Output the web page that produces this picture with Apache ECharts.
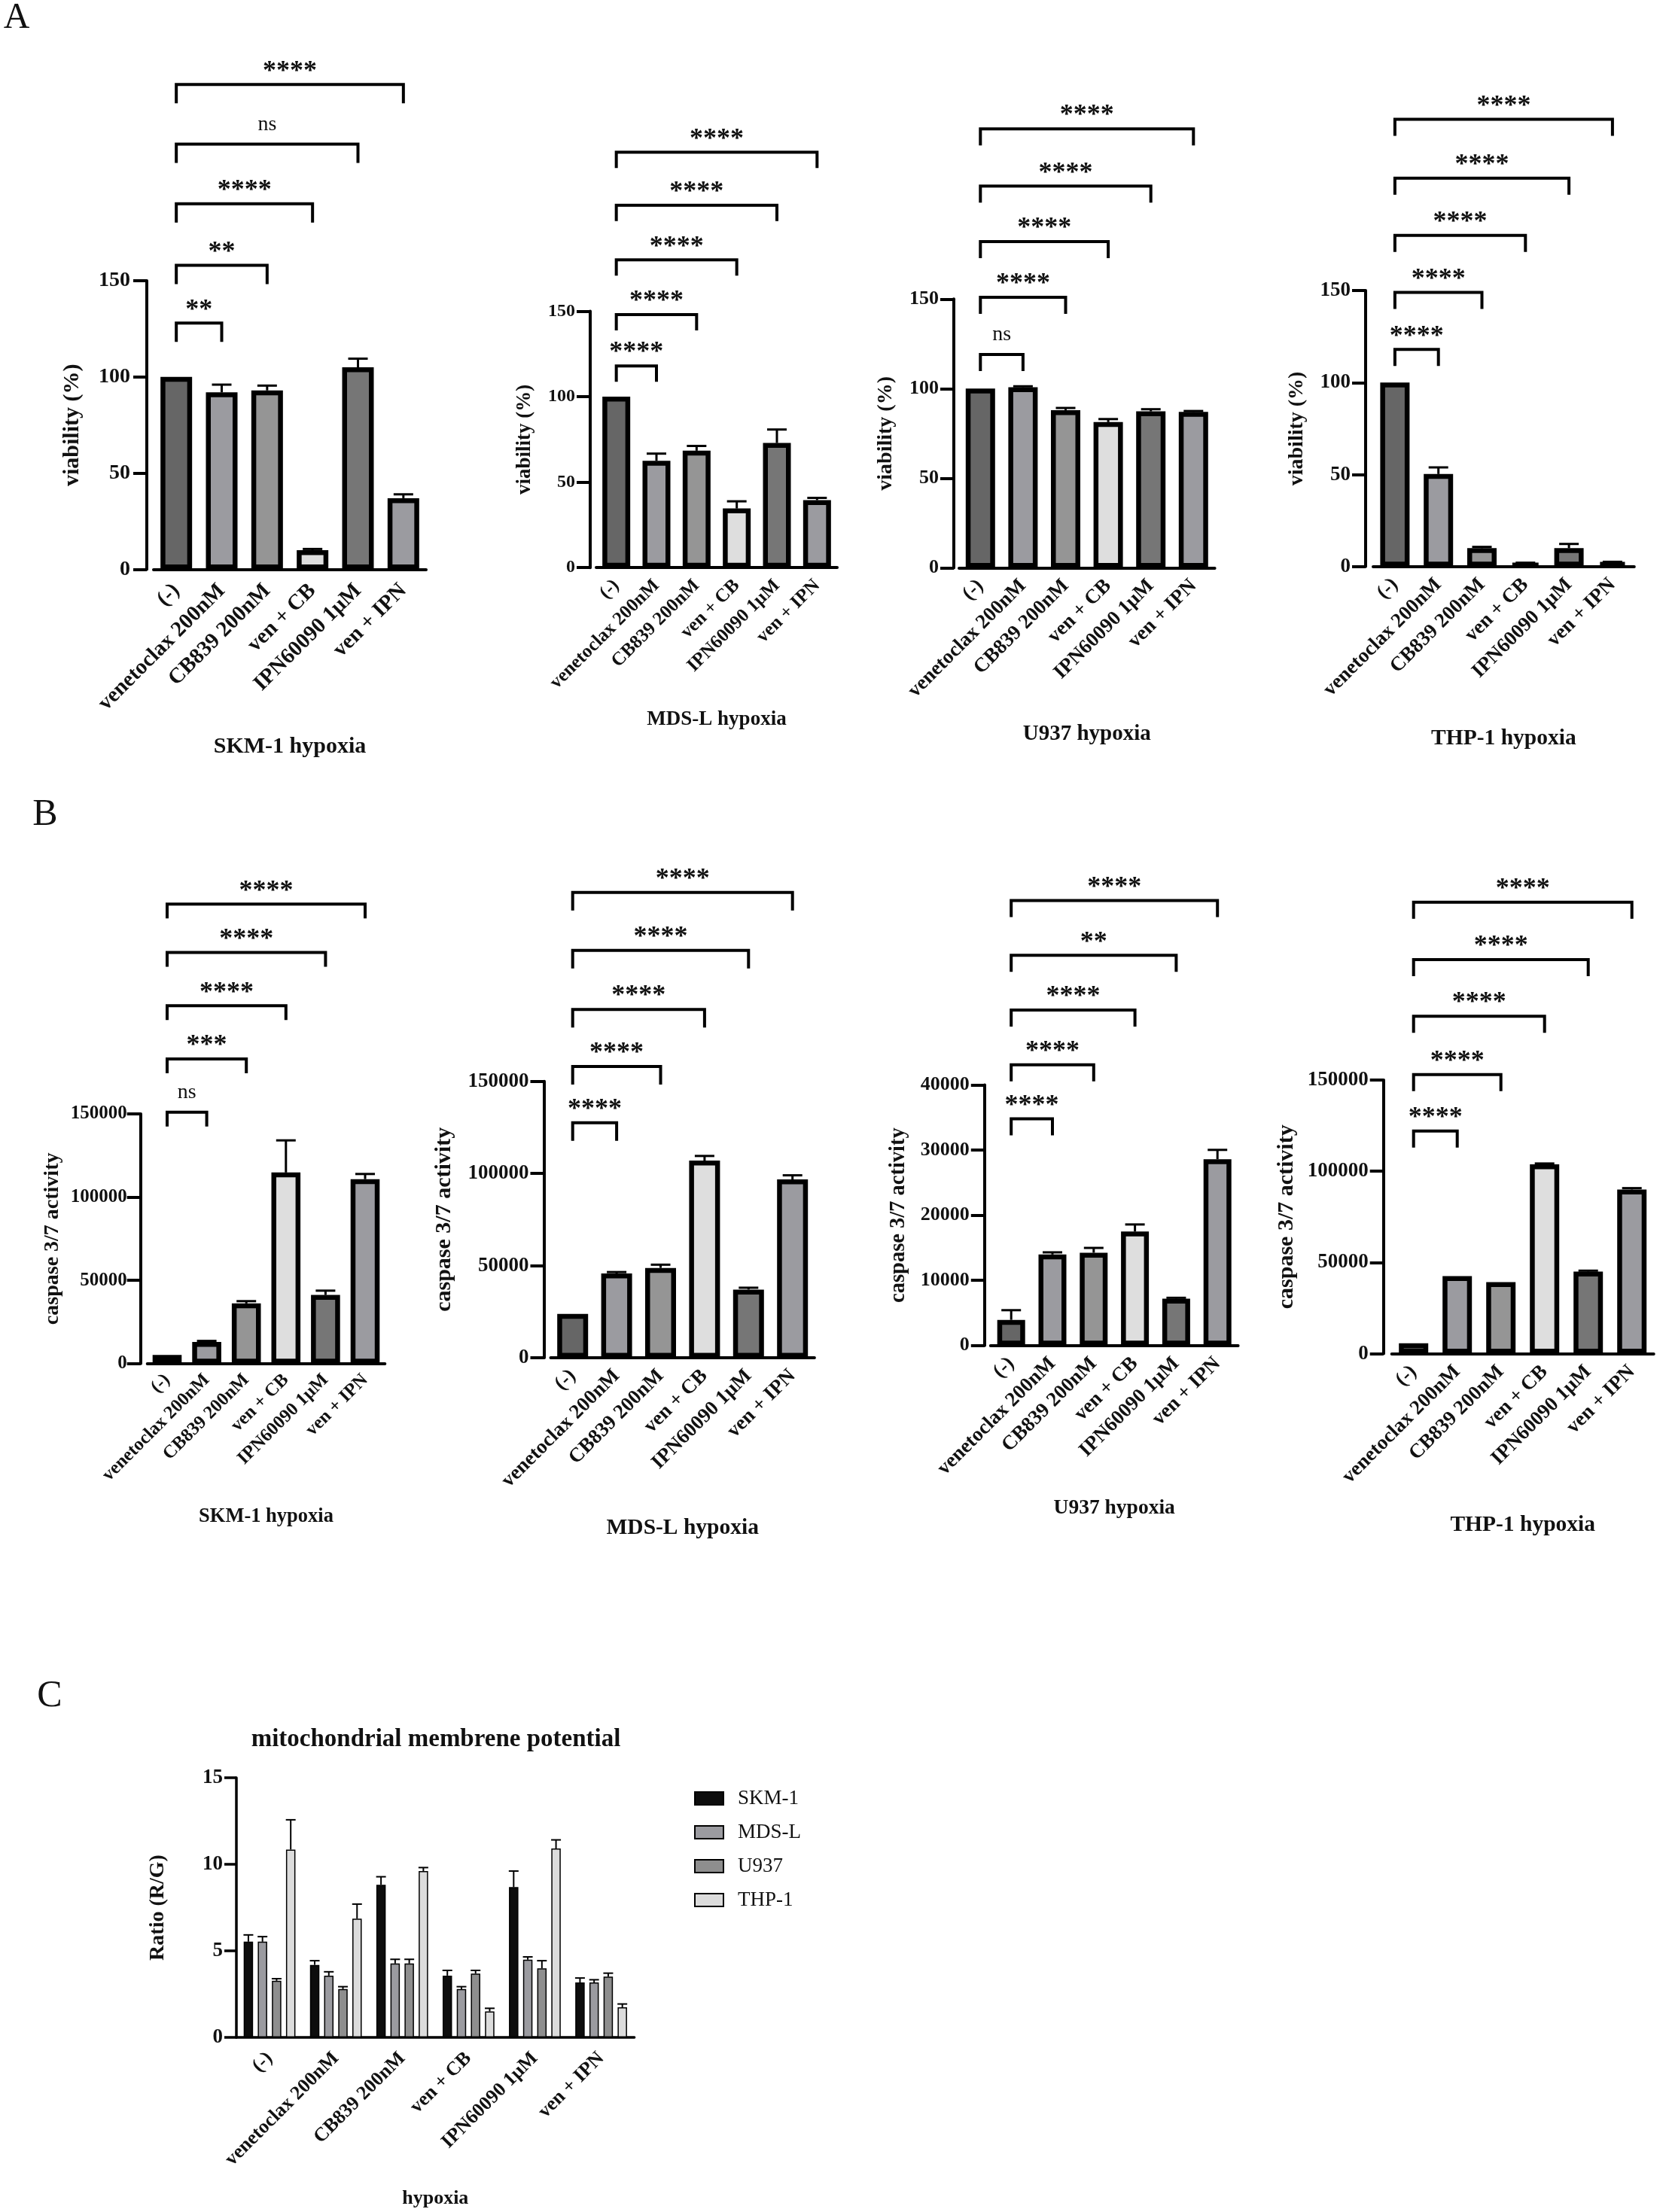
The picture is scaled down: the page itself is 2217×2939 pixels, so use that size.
<!DOCTYPE html>
<html><head><meta charset="utf-8">
<script src="https://cdn.jsdelivr.net/npm/echarts/dist/echarts.min.js"></script>
<style>html,body{margin:0;padding:0;background:#fff}#c{width:2217px;height:2939px}</style>
</head><body><div id="c"></div>
<script>
// ---------- DATA ----------
const categories = ['(-)', 'venetoclax 200nM', 'CB839 200nM', 'ven + CB', 'IPN60090 1μM', 'ven + IPN'];

// Panel A: viability (%)
const viaSKM1 = [100, 92, 93, 10, 105, 37];
const viaSKM1Err = [0, 4, 2.5, 0.6, 4.5, 2];
const viaMDSL = [100, 62.5, 68.4, 34.6, 72.9, 39.5];
const viaMDSLErr = [0, 4.2, 2.8, 4.2, 7.9, 1.3];
const viaU937 = [100, 100.8, 88, 81.3, 87.3, 87];
const viaU937Err = [0, 0.5, 1.2, 1.7, 1.2, 0.5];
const viaTHP1 = [100, 50.3, 10, 1.7, 10, 2.4];
const viaTHP1Err = [0, 3.6, 0.7, 0.4, 2.3, 0.2];

// Panel B: caspase 3/7 activity
const casSKM1 = [5200, 13000, 36100, 114800, 41200, 110800];
const casSKM1Err = [0, 600, 1400, 19300, 2600, 3100];
const casMDSL = [23750, 45750, 48750, 107000, 37000, 96750];
const casMDSLErr = [0, 750, 1750, 2500, 1000, 2250];
const casU937 = [3930, 13970, 14240, 17500, 7190, 28600];
const casU937Err = [1490, 330, 740, 1080, 130, 1430];
const casTHP1 = [5750, 42500, 39250, 103750, 45000, 90000];
const casTHP1Err = [0, 0, 0, 500, 500, 750];

// Significance brackets: (-) vs each other group; labels and bracket levels (data units)
const sigViaSKM1 = ['**', '**', '****', 'ns', '****'];
const lvlViaSKM1 = [128, 158, 190, 221, 252];
const sigViaMDSL = ['****', '****', '****', '****', '****'];
const lvlViaMDSL = [118, 148, 180, 212, 243];
const sigViaU937 = ['ns', '****', '****', '****', '****'];
const lvlViaU937 = [119, 151, 182, 213, 245];
const sigViaTHP1 = ['****', '****', '****', '****', '****'];
const lvlViaTHP1 = [118, 149, 180, 211, 243];
const sigCasSKM1 = ['ns', '***', '****', '****', '****'];
const lvlCasSKM1 = [151000, 183000, 215000, 247000, 276000];
const sigCasMDSL = ['****', '****', '****', '****', '****'];
const lvlCasMDSL = [127500, 158000, 189000, 221000, 252500];
const sigCasU937 = ['****', '****', '****', '**', '****'];
const lvlCasU937 = [34800, 43100, 51500, 59900, 68300];
const sigCasTHP1 = ['****', '****', '****', '****', '****'];
const lvlCasTHP1 = [122000, 153000, 185000, 216000, 247500];

// Panel C: mitochondrial membrane potential, Ratio (R/G)
const mmpNames = ['SKM-1', 'MDS-L', 'U937', 'THP-1'];
const mmpSKM1 = [5.53, 4.19, 8.82, 3.57, 8.68, 3.17];
const mmpSKM1Err = [0.39, 0.24, 0.46, 0.30, 0.93, 0.26];
const mmpMDSL = [5.53, 3.57, 4.27, 2.79, 4.49, 3.17];
const mmpMDSLErr = [0.29, 0.22, 0.24, 0.14, 0.16, 0.16];
const mmpU937 = [3.27, 2.79, 4.27, 3.69, 3.99, 3.51];
const mmpU937Err = [0.12, 0.14, 0.24, 0.18, 0.44, 0.20];
const mmpTHP1 = [10.85, 6.86, 9.61, 1.50, 10.91, 1.74];
const mmpTHP1Err = [1.72, 0.84, 0.20, 0.18, 0.50, 0.19];

// ---------- STYLE / LAYOUT ----------
const SERIF = '"Liberation Serif", "Times New Roman", Times, serif';
const INK = '#111';
const barColors = ['#666666', '#9b9ba0', '#959595', '#dedede', '#767676', '#9b9ba0'];
const mmpColors = ['#0d0d0d', '#9b9ba0', '#8e8e8e', '#dcdcdc'];

const panels = [
  {v: viaSKM1, e: viaSKM1Err, s: sigViaSKM1, l: lvlViaSKM1, max: 150, iv: 50, yName: 'viability (%)', xName: 'SKM-1 hypoxia',
   left: 204, top: 373, width: 362, height: 383.5, barW: 42, off: 9, yGap: 99, xGap: 236, tick: 28, lab: 29, title: 30, yn: 30, tip: 25, xm: 24, ym: 22},
  {v: viaMDSL, e: viaMDSLErr, s: sigViaMDSL, l: lvlViaMDSL, max: 150, iv: 50, yName: 'viability (%)', xName: 'MDS-L hypoxia',
   left: 792, top: 413.5, width: 320, height: 340.7, barW: 37, off: 8, yGap: 87, xGap: 202, tick: 24, lab: 25, title: 27, yn: 27, tip: 21, xm: 20, ym: 20},
  {v: viaU937, e: viaU937Err, s: sigViaU937, l: lvlViaU937, max: 150, iv: 50, yName: 'viability (%)', xName: 'U937 hypoxia',
   left: 1274, top: 397.3, width: 339.6, height: 357.1, barW: 39, off: 7, yGap: 90, xGap: 221, tick: 26, lab: 27, title: 29, yn: 28, tip: 22, xm: 20, ym: 20},
  {v: viaTHP1, e: viaTHP1Err, s: sigViaTHP1, l: lvlViaTHP1, max: 150, iv: 50, yName: 'viability (%)', xName: 'THP-1 hypoxia',
   left: 1824, top: 386, width: 346.8, height: 366.8, barW: 39, off: 10, yGap: 91, xGap: 229, tick: 27, lab: 27, title: 29.5, yn: 28, tip: 22, xm: 20, ym: 20},
  {v: casSKM1, e: casSKM1Err, s: sigCasSKM1, l: lvlCasSKM1, max: 150000, iv: 50000, yName: 'caspase 3/7 activity', xName: 'SKM-1 hypoxia',
   left: 195.7, top: 1480, width: 315.6, height: 331.7, barW: 38.6, off: 9, yGap: 117, xGap: 203, tick: 25, lab: 24.5, title: 26.5, yn: 28, tip: 19, xm: 18, ym: 18},
  {v: casMDSL, e: casMDSLErr, s: sigCasMDSL, l: lvlCasMDSL, max: 150000, iv: 50000, yName: 'caspase 3/7 activity', xName: 'MDS-L hypoxia',
   left: 731.5, top: 1436.7, width: 350.4, height: 367.3, barW: 41, off: 9, yGap: 132, xGap: 226, tick: 27, lab: 27, title: 29.5, yn: 30, tip: 24, xm: 20, ym: 20},
  {v: casU937, e: casU937Err, s: sigCasU937, l: lvlCasU937, max: 40000, iv: 10000, yName: 'caspase 3/7 activity', xName: 'U937 hypoxia',
   left: 1315.8, top: 1441.5, width: 328.8, height: 346.2, barW: 37, off: 8, yGap: 114, xGap: 216, tick: 26, lab: 27, title: 27.5, yn: 28.5, tip: 22, xm: 20, ym: 20},
  {v: casTHP1, e: casTHP1Err, s: sigCasTHP1, l: lvlCasTHP1, max: 150000, iv: 50000, yName: 'caspase 3/7 activity', xName: 'THP-1 hypoxia',
   left: 1848.7, top: 1435, width: 348, height: 363.6, barW: 39, off: 11, yGap: 128, xGap: 228, tick: 27, lab: 27, title: 29.5, yn: 30, tip: 22, xm: 20, ym: 20}
];
const panelC = {max: 15, iv: 5, yName: 'Ratio (R/G)', xName: 'hypoxia', left: 314, top: 2362, width: 528.6, height: 345,
  yGap: 104, xGap: 214, tick: 27, lab: 26, title: 26, yn: 28, xm: 24, ym: 18};

const grids = [], xAxes = [], yAxes = [], series = [];

function addAxes(p, gi, tickLen, lw) {
  grids.push({left: p.left, top: p.top, width: p.width, height: p.height, containLabel: false, outerBoundsMode: 'none'});
  xAxes.push({
    type: 'category', gridIndex: gi, data: categories,
    name: p.xName, nameLocation: 'middle', nameGap: p.xGap, nameMoveOverlap: false,
    nameTextStyle: {fontSize: p.title, fontWeight: 'bold', fontFamily: SERIF, color: INK, verticalAlign: 'middle', align: 'center'},
    axisLine: {lineStyle: {color: '#000', width: lw}},
    axisTick: {alignWithLabel: true, length: tickLen, lineStyle: {color: '#000', width: lw}},
    axisLabel: {interval: 0, rotate: 45, margin: p.xm, fontSize: p.lab, fontWeight: 'bold', fontFamily: SERIF, color: INK},
    splitLine: {show: false}
  });
  yAxes.push({
    type: 'value', gridIndex: gi, min: 0, max: p.max, interval: p.iv, offset: p.off || 0,
    name: p.yName, nameLocation: 'middle', nameGap: p.yGap, nameMoveOverlap: false,
    nameTextStyle: {fontSize: p.yn, fontWeight: 'bold', fontFamily: SERIF, color: INK, verticalAlign: 'middle', align: 'center'},
    axisLine: {show: true, lineStyle: {color: '#000', width: lw}},
    axisTick: {show: true, length: tickLen, lineStyle: {color: '#000', width: lw}},
    axisLabel: {margin: p.ym, fontSize: p.tick, fontWeight: 'bold', fontFamily: SERIF, color: INK, formatter: v => String(v)},
    splitLine: {show: false}
  });
}

function errorBarSeries(gi, vals, errs, dx, capHalf, lw, z) {
  return {
    type: 'custom', xAxisIndex: gi, yAxisIndex: gi, clip: false, silent: true, z: z || 4,
    data: vals.map((v, i) => [i, v, errs[i]]),
    renderItem(params, api) {
      const e = api.value(2);
      if (!e) return null;
      const p0 = api.coord([api.value(0), api.value(1)]);
      const p1 = api.coord([api.value(0), api.value(1) + e]);
      const x = p0[0] + dx;
      return {type: 'group', children: [
        {type: 'line', shape: {x1: x, y1: p0[1], x2: x, y2: p1[1]}, style: {stroke: '#000', lineWidth: lw}},
        {type: 'line', shape: {x1: x - capHalf, y1: p1[1], x2: x + capHalf, y2: p1[1]}, style: {stroke: '#000', lineWidth: lw}}
      ]};
    }
  };
}

function bracketSeries(gi, sig, lvl, tip) {
  return {
    type: 'custom', xAxisIndex: gi, yAxisIndex: gi, clip: false, silent: true, z: 5,
    data: lvl.map((v, i) => [i + 1, v]),
    renderItem(params, api) {
      const t = api.value(0), v = api.value(1);
      const a = api.coord([0, v]), b = api.coord([t, v]);
      const lab = sig[params.dataIndex];
      const ns = lab === 'ns';
      return {type: 'group', children: [
        {type: 'polyline', shape: {points: [[a[0], a[1] + tip], [a[0], a[1]], [b[0], b[1]], [b[0], b[1] + tip]]},
         style: {stroke: '#000', lineWidth: 4, fill: null}},
        {type: 'text', style: {
          text: lab,
          x: (a[0] + b[0]) / 2, y: a[1] - (ns ? 26 : 17),
          align: 'center', verticalAlign: 'middle', textAlign: 'center', textVerticalAlign: 'middle',
          fontSize: ns ? 28 : 36, fontWeight: ns ? 'normal' : 'bold', fontFamily: SERIF, fill: INK}}
      ]};
    }
  };
}

panels.forEach((p, gi) => {
  addAxes(p, gi, 18, 4);
  series.push({
    type: 'bar', xAxisIndex: gi, yAxisIndex: gi, barWidth: p.barW, silent: true, z: 2,
    itemStyle: {borderColor: '#000', borderWidth: 6.5},
    data: p.v.map((v, i) => ({value: v, itemStyle: {color: barColors[i]}}))
  });
  series.push(errorBarSeries(gi, p.v, p.e, 0, 13, 3));
  series.push(bracketSeries(gi, p.s, p.l, p.tip));
});

// Panel C
const gC = panels.length;
addAxes(panelC, gC, 16, 3.5);
const mmpVals = [mmpSKM1, mmpMDSL, mmpU937, mmpTHP1];
const mmpErrs = [mmpSKM1Err, mmpMDSLErr, mmpU937Err, mmpTHP1Err];
const cBarW = 12.5, cGap = 0.5;
mmpVals.forEach((vals, k) => {
  series.push({
    type: 'bar', name: mmpNames[k], xAxisIndex: gC, yAxisIndex: gC, barWidth: cBarW, barGap: (cGap * 100) + '%', silent: true, z: 2,
    itemStyle: {color: mmpColors[k], borderColor: '#000', borderWidth: 1.5},
    data: vals
  });
});
mmpVals.forEach((vals, k) => {
  const step = cBarW * (1 + cGap);
  series.push(errorBarSeries(gC, vals, mmpErrs[k], (k - 1.5) * step, 6.5, 2));
});

const option = {
  animation: false,
  backgroundColor: '#fff',
  grid: grids, xAxis: xAxes, yAxis: yAxes, series: series,
  legend: {
    data: mmpNames, orient: 'vertical', left: 917, top: 2371, itemWidth: 38, itemHeight: 17, itemGap: 18,
    icon: 'rect', selectedMode: false,
    itemStyle: {borderColor: '#000', borderWidth: 2},
    textStyle: {fontSize: 27, fontFamily: SERIF, color: INK, padding: [0, 0, 0, 14]}
  },
  graphic: [
    {type: 'text', x: 22, y: 24, style: {text: 'A', font: '48px ' + SERIF, fill: INK, textAlign: 'center', textVerticalAlign: 'middle', align: 'center', verticalAlign: 'middle'}},
    {type: 'text', x: 60, y: 1083, style: {text: 'B', font: '50px ' + SERIF, fill: INK, textAlign: 'center', textVerticalAlign: 'middle', align: 'center', verticalAlign: 'middle'}},
    {type: 'text', x: 66, y: 2254, style: {text: 'C', font: '50px ' + SERIF, fill: INK, textAlign: 'center', textVerticalAlign: 'middle', align: 'center', verticalAlign: 'middle'}},
    {type: 'text', x: 579, y: 2311, style: {text: 'mitochondrial membrene potential', font: 'bold 33px ' + SERIF, fill: INK, textAlign: 'center', textVerticalAlign: 'middle', align: 'center', verticalAlign: 'middle'}}
  ]
};

const chart = echarts.init(document.getElementById('c'), null, {renderer: 'canvas', width: 2217, height: 2939});
chart.setOption(option);
</script>
</body></html>
